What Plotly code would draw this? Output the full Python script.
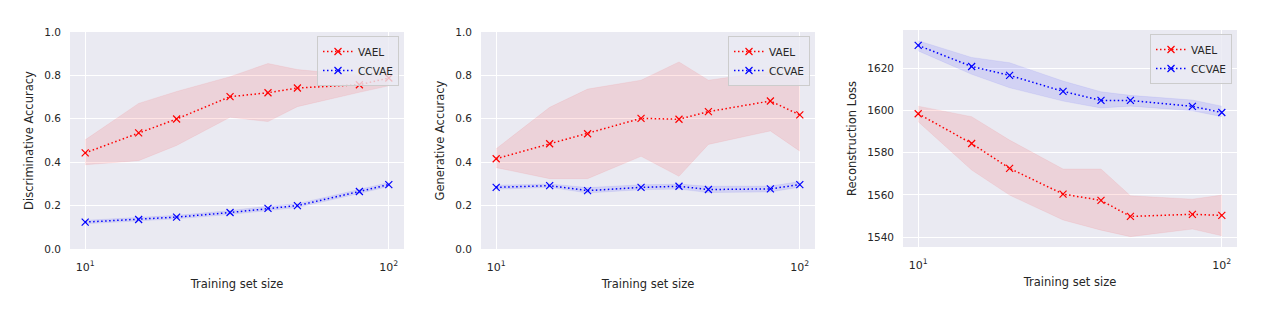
import plotly.graph_objects as go

# ---------------- data ----------------
train_sizes = [10, 15, 20, 30, 40, 50, 80, 100]
series_names = ["VAEL", "CCVAE"]

disc_vael_mean = [0.443, 0.535, 0.599, 0.702, 0.720, 0.742, 0.757, 0.788]
disc_vael_upper = [0.503, 0.671, 0.726, 0.794, 0.855, 0.827, 0.800, 0.818]
disc_vael_lower = [0.388, 0.407, 0.477, 0.607, 0.587, 0.656, 0.722, 0.752]
disc_ccvae_mean = [0.124, 0.136, 0.147, 0.168, 0.187, 0.200, 0.265, 0.297]
disc_ccvae_upper = [0.132, 0.144, 0.155, 0.177, 0.197, 0.209, 0.274, 0.306]
disc_ccvae_lower = [0.116, 0.128, 0.139, 0.159, 0.177, 0.191, 0.256, 0.288]

gen_vael_mean = [0.416, 0.485, 0.531, 0.602, 0.598, 0.633, 0.682, 0.618]
gen_vael_upper = [0.462, 0.653, 0.737, 0.778, 0.862, 0.778, 0.817, 0.786]
gen_vael_lower = [0.375, 0.324, 0.324, 0.427, 0.335, 0.482, 0.544, 0.451]
gen_ccvae_mean = [0.284, 0.292, 0.269, 0.284, 0.289, 0.274, 0.277, 0.297]
gen_ccvae_upper = [0.294, 0.300, 0.283, 0.296, 0.299, 0.289, 0.290, 0.311]
gen_ccvae_lower = [0.275, 0.284, 0.258, 0.273, 0.276, 0.260, 0.263, 0.285]

rec_vael_mean = [1598.5, 1584.4, 1572.6, 1560.4, 1557.4, 1549.8, 1550.8, 1550.3]
rec_vael_upper = [1602.1, 1597.1, 1586.0, 1572.3, 1572.3, 1559.6, 1558.0, 1559.9]
rec_vael_lower = [1594.7, 1571.8, 1559.9, 1548.1, 1543.3, 1540.2, 1543.8, 1540.6]
rec_ccvae_mean = [1630.9, 1620.9, 1616.7, 1609.1, 1604.8, 1604.8, 1602.0, 1599.1]
rec_ccvae_upper = [1633.1, 1625.2, 1622.7, 1614.0, 1608.9, 1607.2, 1605.0, 1602.1]
rec_ccvae_lower = [1628.3, 1617.2, 1610.8, 1604.5, 1601.2, 1602.1, 1599.9, 1597.1]

y_titles = ["Discriminative Accuracy", "Generative Accuracy", "Reconstruction Loss"]
x_title = "Training set size"
x_tickvals = [10, 100]
x_ticktext = ["10<sup>1</sup>", "10<sup>2</sup>"]

# ---------------- style ----------------
W, H = 1273, 309
BG = "#EAEAF2"
TXT = "#262626"
FONT = "DejaVu Sans, Verdana, sans-serif"
colors = {"VAEL": "rgb(255,0,0)", "CCVAE": "rgb(0,0,255)"}
fills = {"VAEL": "rgba(255,0,0,0.1)", "CCVAE": "rgba(0,0,255,0.1)"}

# panel boxes in pixels: (left, right, top, bottom)
boxes = [(70, 404, 32, 249), (481, 815, 32, 249), (903, 1237, 30, 247)]

panels = [
    {"VAEL": (disc_vael_mean, disc_vael_upper, disc_vael_lower),
     "CCVAE": (disc_ccvae_mean, disc_ccvae_upper, disc_ccvae_lower)},
    {"VAEL": (gen_vael_mean, gen_vael_upper, gen_vael_lower),
     "CCVAE": (gen_ccvae_mean, gen_ccvae_upper, gen_ccvae_lower)},
    {"VAEL": (rec_vael_mean, rec_vael_upper, rec_vael_lower),
     "CCVAE": (rec_ccvae_mean, rec_ccvae_upper, rec_ccvae_lower)},
]
y_ranges = [[0, 1.0], [0, 1.0], [1535.3, 1638.2]]
y_dticks = [0.2, 0.2, 20]
y_formats = [".1f", ".1f", "d"]

fig = go.Figure()

for i, (panel, box) in enumerate(zip(panels, boxes)):
    n = "" if i == 0 else str(i + 1)
    xa, ya = "x" + n, "y" + n
    leg = "legend" + n
    # fills first
    for name in series_names:
        mean, up, lo = panel[name]
        fig.add_trace(go.Scatter(x=train_sizes, y=up, mode="lines",
                                 line=dict(width=0.6, color=fills[name]),
                                 showlegend=False, hoverinfo="skip", legend=leg,
                                 xaxis=xa, yaxis=ya))
        fig.add_trace(go.Scatter(x=train_sizes, y=lo, mode="lines",
                                 line=dict(width=0.6, color=fills[name]),
                                 fill="tonexty", fillcolor=fills[name],
                                 showlegend=False, hoverinfo="skip", legend=leg,
                                 xaxis=xa, yaxis=ya))
    for name in series_names:
        mean, up, lo = panel[name]
        fig.add_trace(go.Scatter(x=train_sizes, y=mean, mode="lines+markers",
                                 name=name, legend=leg,
                                 line=dict(color=colors[name], width=1.5, dash="1.5px,2.5px"),
                                 marker=dict(symbol="x-thin", size=7,
                                             line=dict(color=colors[name], width=1.2)),
                                 xaxis=xa, yaxis=ya))

    l, r, t, b = box
    fig.layout["xaxis" + n] = dict(
        domain=[l / W, r / W], anchor=ya, type="log", range=[0.95, 2.05],
        tickvals=x_tickvals, ticktext=x_ticktext, showgrid=True, gridcolor="white",
        gridwidth=1, zeroline=False, showline=False, ticks="", automargin=False,
        ticklabelstandoff=10,
        tickfont=dict(size=11, color=TXT, family=FONT),
        title=dict(text=x_title, font=dict(size=11.5, color=TXT, family=FONT), standoff=6),
    )
    fig.layout["yaxis" + n] = dict(
        domain=[1 - b / H, 1 - t / H], anchor=xa, range=y_ranges[i],
        dtick=y_dticks[i], tick0=0, tickformat=y_formats[i],
        showgrid=True, gridcolor="white", gridwidth=1, zeroline=False,
        showline=False, ticks="", ticklabelstandoff=8, automargin=False,
        tickfont=dict(size=10.5, color=TXT, family=FONT),
        title=dict(text=y_titles[i], font=dict(size=11.5, color=TXT, family=FONT), standoff=8),
    )
    fig.layout[leg] = dict(
        x=(r - 5) / W, y=1 - (t + 4) / H, xanchor="right", yanchor="top",
        bgcolor="rgba(234,234,242,0.8)", bordercolor="#CCCCCC", borderwidth=1,
        font=dict(size=10.5, color=TXT, family=FONT), itemwidth=30,
        tracegroupgap=0, traceorder="normal",
    )

fig.update_layout(
    width=W, height=H, margin=dict(l=0, r=0, t=0, b=0),
    paper_bgcolor="white", plot_bgcolor=BG,
    font=dict(family=FONT, color=TXT),
)

fig.write_html("out.html", config={"displayModeBar": False},
               post_script="document.body.style.margin='0';")
